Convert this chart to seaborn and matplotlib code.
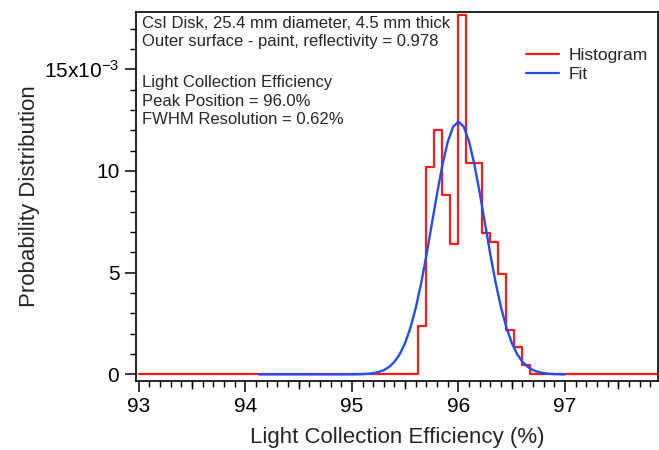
import matplotlib
matplotlib.use("Agg")

import pandas as pd
import seaborn as sns
from matplotlib import pyplot as plt
from matplotlib.lines import Line2D
from matplotlib.ticker import MultipleLocator

# histogram (probability per bin, x10^-3)
bin_edges = [93.0, 95.625, 95.70, 95.775, 95.85, 95.925, 96.0, 96.075, 96.15,
             96.225, 96.30, 96.375, 96.45, 96.525, 96.60, 96.675, 97.9]
hist_vals = [0.0, 2.38, 10.21, 12.02, 8.82, 6.41, 17.67, 10.38, 10.38,
             6.94, 6.52, 4.92, 2.18, 1.36, 0.46, 0.0]

# fitted curve, values
fit_x = [94.13, 95.0, 95.05, 95.1, 95.15, 95.2, 95.25, 95.3, 95.35, 95.4, 95.45,
         95.5, 95.55, 95.6, 95.65, 95.7, 95.75, 95.8, 95.85, 95.9, 95.95, 96.0,
         96.05, 96.1, 96.15, 96.2, 96.25, 96.3, 96.35, 96.4, 96.45, 96.5, 96.55,
         96.6, 96.65, 96.7, 96.75, 96.8, 96.85, 96.9, 96.95, 97.0]
fit_y = [0.0, 0.003, 0.006, 0.014, 0.03, 0.06, 0.115, 0.21, 0.37, 0.62, 1.00,
         1.55, 2.30, 3.28, 4.48, 5.87, 7.39, 8.91, 10.31, 11.44, 12.17, 12.43,
         12.17, 11.44, 10.31, 8.91, 7.39, 5.87, 4.48, 3.28, 2.30, 1.55, 1.00,
         0.62, 0.37, 0.21, 0.115, 0.06, 0.03, 0.014, 0.006, 0.003]

x_ticks = [93, 94, 95, 96, 97]
y_ticks = [0, 5, 10, 15]
y_tick_labels = ["0", "5", "10", "15x10$^{-3}$"]

info_lines = ["CsI Disk, 25.4 mm diameter, 4.5 mm thick",
              "Outer surface - paint, reflectivity = 0.978",
              "Light Collection Efficiency",
              "Peak Position = 96.0%",
              "FWHM Resolution = 0.62%"]

RED = "#ff1a1a"
BLUE = "#1f4ef5"
W, H = 659, 450

sns.set_style("ticks")
plt.rcParams["font.family"] = ["Liberation Sans", "DejaVu Sans"]
plt.rcParams["mathtext.fontset"] = "custom"
plt.rcParams["mathtext.rm"] = "Liberation Sans"
plt.rcParams["mathtext.it"] = "Liberation Sans:italic"

fig = plt.figure(figsize=(W / 100, H / 100), dpi=100)
# axes box in pixels: left 136, right 658, top 12.3, bottom 380.7
ax = fig.add_axes([136 / W, (H - 380.7) / H, 522 / W, 368.4 / H])

centers = [(a + b) / 2 for a, b in zip(bin_edges[:-1], bin_edges[1:])]
hist_df = pd.DataFrame({"lce": centers, "p": hist_vals})
sns.histplot(data=hist_df, x="lce", weights="p", bins=bin_edges,
             element="step", fill=False, color=RED, linewidth=1.6, ax=ax)

fit_df = pd.DataFrame({"lce": fit_x, "p": fit_y})
sns.lineplot(data=fit_df, x="lce", y="p", color=BLUE, linewidth=1.7, ax=ax)

ax.set_xlim(92.975, 97.872)
ax.set_ylim(-0.31, 17.8)
ax.set_xticks(x_ticks)
ax.set_xticklabels([str(t) for t in x_ticks])
ax.xaxis.set_minor_locator(MultipleLocator(0.1))
ax.set_yticks(y_ticks)
ax.set_yticklabels(y_tick_labels)
ax.yaxis.set_minor_locator(MultipleLocator(1))
ax.tick_params(which="major", direction="out", length=8, width=1.1,
               labelsize=15, pad=4, color="black", labelcolor="black")
ax.tick_params(which="minor", direction="out", length=4, width=1.0, color="black")

# half-unit ticks are a bit longer
sec = ax.secondary_xaxis("bottom")
sec.set_xticks([93.5, 94.5, 95.5, 96.5, 97.5])
sec.tick_params(length=6, width=1.0, labelbottom=False, color="black")
sec.spines["bottom"].set_visible(False)

for side in ["left", "bottom", "top", "right"]:
    ax.spines[side].set_visible(True)
    ax.spines[side].set_linewidth(1.2)
    ax.spines[side].set_color("black")

ax.set_xlabel("Light Collection Efficiency (%)", fontsize=16, labelpad=8)
ax.set_ylabel("Probability Distribution", fontsize=16, labelpad=3)

# info text, baselines in pixels from the top
baselines = [28.3, 46.3, 87.3, 105.5, 123.5]
for line, yb in zip(info_lines, baselines):
    fig.text(142 / W, 1 - yb / H, line, fontsize=12, va="baseline", ha="left")

handles = [Line2D([], [], color=RED, linewidth=1.6),
           Line2D([], [], color=BLUE, linewidth=1.6)]
ax.legend(handles, ["Histogram", "Fit"], loc="upper left",
          bbox_to_anchor=(0.747, 0.904), frameon=False, fontsize=12.5,
          handlelength=1.9, handletextpad=0.57, labelspacing=0.25,
          borderpad=0, borderaxespad=0)

fig.savefig("out.png", dpi=100)
